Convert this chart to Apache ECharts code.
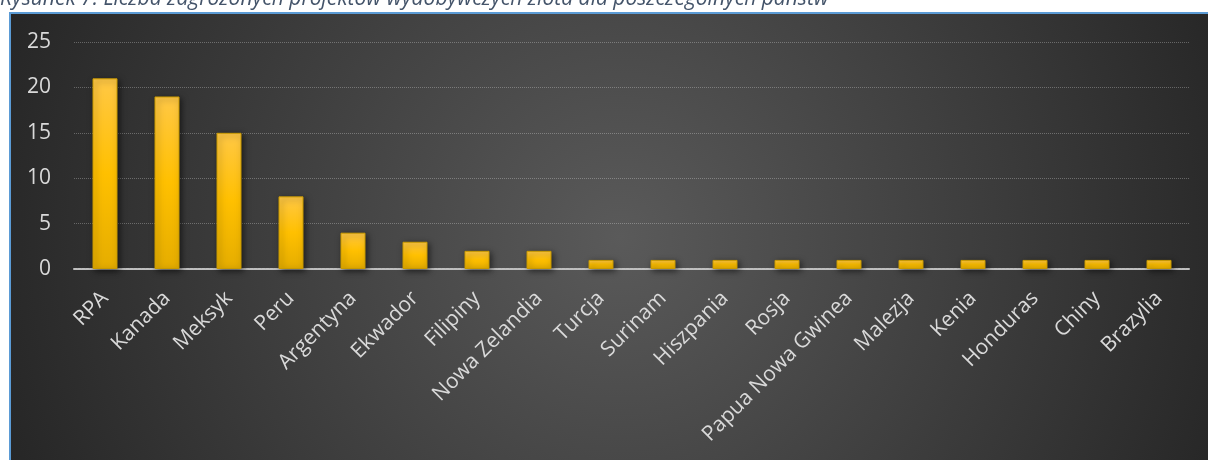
<!DOCTYPE html>
<html><head><meta charset="utf-8">
<script src="https://cdn.jsdelivr.net/npm/echarts@6/dist/echarts.min.js"></script>
<style>html,body{margin:0;padding:0;background:#fff;}#c{width:1208px;height:460px;}</style>
</head><body><div id="c"></div>
<script>
const caption = 'Rysunek 7: Liczba zagrożonych projektów wydobywczych złota dla poszczególnych państw';
const categories = ['RPA','Kanada','Meksyk','Peru','Argentyna','Ekwador','Filipiny','Nowa Zelandia','Turcja','Surinam','Hiszpania','Rosja','Papua Nowa Gwinea','Malezja','Kenia','Honduras','Chiny','Brazylia'];
const values = [21,19,15,8,4,3,2,2,1,1,1,1,1,1,1,1,1,1];
const yMin = 0, yMax = 25, yStep = 5;

const chart = echarts.init(document.getElementById('c'), null, {renderer:'canvas'});
chart.setOption({
  animation:false,
  backgroundColor:'#ffffff',
  graphic:[
    {type:'rect', z:-10, silent:true, shape:{x:9,y:12,width:1210,height:460}, style:{fill:'#5B9BD5'}},
    {type:'rect', z:-9, silent:true, shape:{x:11,y:14,width:1210,height:460},
      style:{fill:{type:'radial', x:620, y:237, r:650, global:true,
        colorStops:[{offset:0,color:'#5a5a5a'},{offset:1,color:'#262626'}]}}},
    {type:'text', z:-8, silent:true, x:0, y:10,
      style:{text:caption, font:'italic 21px "Open Sans"', fill:'#44546A', textVerticalAlign:'bottom'}}
  ],
  grid:{left:74, right:18, top:42, bottom:191, containLabel:false},
  xAxis:{
    type:'category', data:categories,
    axisLine:{show:true, lineStyle:{color:'#bfbfbf', width:2, type:[3,1]}},
    axisTick:{show:false},
    axisLabel:{interval:0, rotate:45, margin:26, color:'#d9d9d9', fontSize:21, fontFamily:'Open Sans'},
    splitLine:{show:false}
  },
  yAxis:{
    type:'value', min:yMin, max:yMax, interval:yStep,
    axisLine:{show:false}, axisTick:{show:false},
    axisLabel:{margin:23, color:'#d9d9d9', fontSize:21, fontFamily:'Open Sans'},
    splitLine:{show:true, lineStyle:{color:'rgba(255,255,255,0.28)', width:1, type:'dotted'}}
  },
  series:[{
    type:'bar', data:values, barWidth:25,
    itemStyle:{
      color:{type:'linear', x:0,y:0,x2:0,y2:1, colorStops:[
        {offset:0,color:'#FFC846'},{offset:0.5,color:'#FFC000'},{offset:1,color:'#E5AD00'}]},
      borderColor:'#C99A00', borderWidth:1,
      shadowColor:'rgba(0,0,0,0.55)', shadowBlur:6, shadowOffsetX:2, shadowOffsetY:2
    }
  }]
});
</script></body></html>
